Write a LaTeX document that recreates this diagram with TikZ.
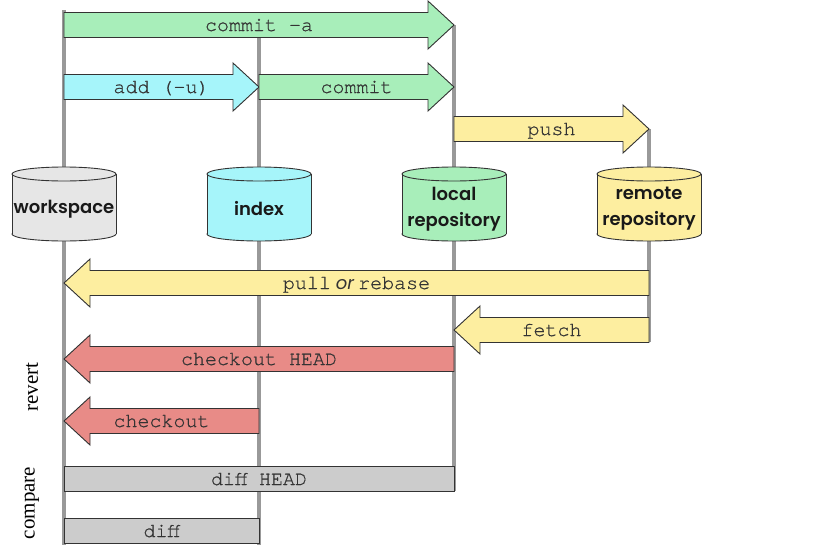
\documentclass[tikz,border=0pt]{standalone}
\usepackage{fontspec}
\setmainfont{Liberation Serif}
\setmonofont{TeX Gyre Cursor}[FakeBold=0.7]
\newfontfamily\cylfont{Poppins SemiBold}
\newfontfamily\orfont{Poppins}
\definecolor{cgreen}{HTML}{A8EEBA}
\definecolor{ccyan}{HTML}{A6F5FA}
\definecolor{cyellow}{HTML}{FDEEA0}
\definecolor{cred}{HTML}{E88B87}
\definecolor{cgray}{HTML}{CCCCCC}
\definecolor{clight}{HTML}{E6E6E6}
\definecolor{cline}{HTML}{999999}
\definecolor{cedge}{HTML}{333333}
\tikzset{
  edge/.style={draw=cedge, line width=0.9pt, line join=miter},
  colline/.style={draw=cline, line width=4pt},
  lbl/.style={font=\ttfamily\fontsize{20}{20}\selectfont, text=black!80, inner sep=0pt, anchor=base},
  cyltext/.style={font=\cylfont\fontsize{18}{26}\selectfont, align=center, text=black!90, inner sep=0pt},
  side/.style={font=\rmfamily\fontsize{21}{21}\selectfont, rotate=90, inner sep=0pt}
}
% right-pointing arrow: name, x tail, x tip, y centre, fill, text
\newcommand\rarr[6]{%
  \draw[edge, fill=#5] (#2,#4-12.5) -- (#3-26,#4-12.5) -- (#3-26,#4-24) -- (#3,#4)
     -- (#3-26,#4+24) -- (#3-26,#4+12.5) -- (#2,#4+12.5) -- cycle;
  \node[lbl] (#1) at ({(#2+#3)/2},#4+6) {#6};
}
% left-pointing arrow: name, x tail (right), x tip (left), y centre, fill, text
\newcommand\larr[6]{%
  \draw[edge, fill=#5] (#2,#4-12.5) -- (#3+26,#4-12.5) -- (#3+26,#4-24) -- (#3,#4)
     -- (#3+26,#4+24) -- (#3+26,#4+12.5) -- (#2,#4+12.5) -- cycle;
  \node[lbl] (#1) at ({(#2+#3)/2},#4+6) {#6};
}
% bar: name, x left, x right, y centre, fill, text
\newcommand\cbar[6]{%
  \draw[edge, fill=#5] (#2,#4-12.5) rectangle (#3,#4+12.5);
  \node[lbl] (#1) at ({(#2+#3)/2},#4+6) {#6};
}
% repository cylinder: name, x centre, fill, text
\newcommand\repo[4]{%
  \draw[edge, fill=#3] (#2,234) ellipse [x radius=52pt, y radius=7pt];
  \fill[#3] (#2-52,174) rectangle (#2+52,234);
  \draw[edge] (#2-52,174) -- (#2-52,234) (#2+52,174) -- (#2+52,234);
  \draw[edge, fill=#3] (#2,174) ellipse [x radius=52pt, y radius=7pt];
  \node[cyltext] (#1) at (#2,209) {#4};
}
\begin{document}
\begin{tikzpicture}[x=1pt,y=-1pt]
\fill[white] (0,0) rectangle (830,552);
\useasboundingbox (0,0) rectangle (830,552);
% column lines
\coordinate (wsT) at (64,10);  \coordinate (wsB) at (64,545);
\coordinate (ixT) at (259,37); \coordinate (ixB) at (259,545);
\coordinate (lrT) at (454,25); \coordinate (lrB) at (454,491);
\coordinate (rrT) at (649,129); \coordinate (rrB) at (649,342);
\draw[colline] (wsT) -- (wsB);
\draw[colline] (ixT) -- (ixB);
\draw[colline] (lrT) -- (lrB);
\draw[colline] (rrT) -- (rrB);
% arrows
\rarr{commitall}{64}{454}{25}{cgreen}{commit -a}
\rarr{add}{64}{259}{87}{ccyan}{add (-u)}
\rarr{commit}{259}{454}{87}{cgreen}{commit}
\rarr{push}{454}{649}{129}{cyellow}{push}
\larr{pull}{649}{64}{283}{cyellow}{pull\hspace{5pt}{\orfont\itshape\fontsize{18}{18}\selectfont or}\hspace{4pt}rebase}
\larr{fetch}{649}{454}{330}{cyellow}{fetch}
\larr{checkouthead}{454}{64}{359}{cred}{checkout HEAD}
\larr{checkout}{259}{64}{421}{cred}{checkout}
\cbar{diffhead}{64}{454}{479}{cgray}{diff HEAD}
\cbar{diff}{64}{259}{531}{cgray}{diff}
% repositories
\repo{workspace}{64}{clight}{workspace}
\repo{index}{259}{ccyan}{index}
\repo{local}{454}{cgreen}{local\\repository}
\repo{remote}{649}{cyellow}{remote\\repository}
% side labels
\node[side] (revert) at (32,387) {revert};
\node[side] (compare) at (32,503) {compare};
\end{tikzpicture}
\end{document}
